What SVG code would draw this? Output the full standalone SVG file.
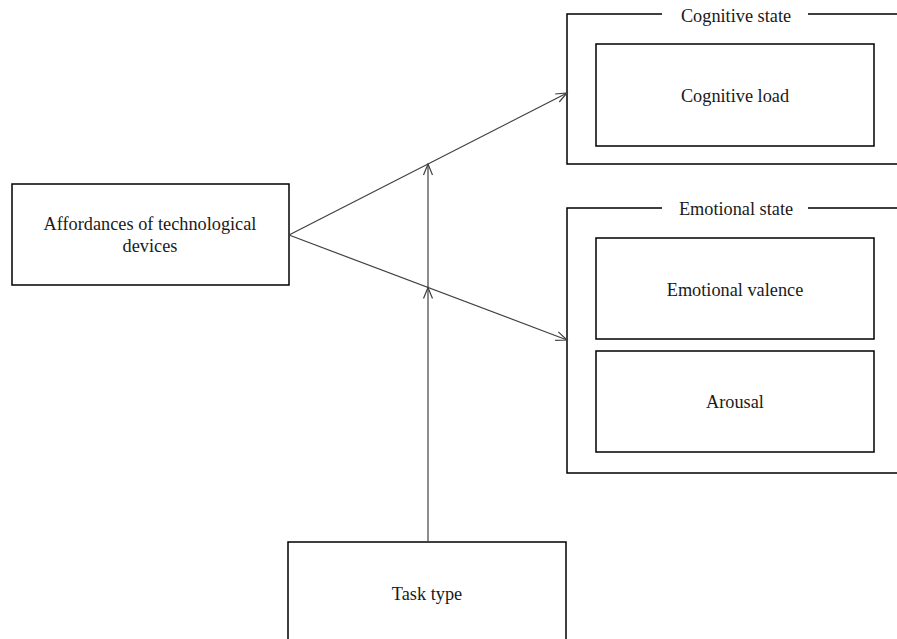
<svg xmlns="http://www.w3.org/2000/svg" width="897" height="639" viewBox="0 0 897 639">
<style>
.box{fill:#fff;stroke:#000;stroke-width:1.5}
.frame{fill:none;stroke:#000;stroke-width:1.5}
.lbl{font-family:"Liberation Serif","Times New Roman",serif;font-size:18.3px;fill:#1a1a1a;text-anchor:middle}
.conn{fill:none;stroke:#404040;stroke-width:1.2}
</style>
<defs>
<marker id="arr" markerWidth="14" markerHeight="12" refX="12" refY="6" orient="auto" markerUnits="userSpaceOnUse">
<path d="M1,1.5 L12,6 L1,10.5" fill="none" stroke="#404040" stroke-width="1.2"/>
</marker>
</defs>
<g id="cognitive-state">
<path class="frame" d="M662,14 H567 V164 H897 M808,14 H897"/>
<text class="lbl" x="736" y="22">Cognitive state</text>
</g>
<g id="cognitive-load">
<rect class="box" x="596" y="44" width="278" height="102"/>
<text class="lbl" x="735" y="102">Cognitive load</text>
</g>
<g id="emotional-state">
<path class="frame" d="M662,208 H567 V473 H897 M808,208 H897"/>
<text class="lbl" x="736" y="215">Emotional state</text>
</g>
<g id="emotional-valence">
<rect class="box" x="596" y="238" width="278" height="101"/>
<text class="lbl" x="735" y="296">Emotional valence</text>
</g>
<g id="arousal">
<rect class="box" x="596" y="351" width="278" height="101"/>
<text class="lbl" x="735" y="408">Arousal</text>
</g>
<g id="affordances">
<rect class="box" x="12" y="184" width="277" height="101"/>
<text class="lbl" x="150" y="230">Affordances of technological</text>
<text class="lbl" x="150" y="252">devices</text>
</g>
<g id="task-type">
<rect class="box" x="288" y="542" width="278" height="110"/>
<text class="lbl" x="427" y="600">Task type</text>
</g>
<g id="connectors">
<line class="conn" x1="289" y1="235" x2="567" y2="93" marker-end="url(#arr)"/>
<line class="conn" x1="289" y1="235" x2="567" y2="340" marker-end="url(#arr)"/>
<line class="conn" x1="428" y1="542" x2="428" y2="287.5" marker-end="url(#arr)"/>
<line class="conn" x1="428" y1="287.5" x2="428" y2="164" marker-end="url(#arr)"/>
</g>
</svg>
